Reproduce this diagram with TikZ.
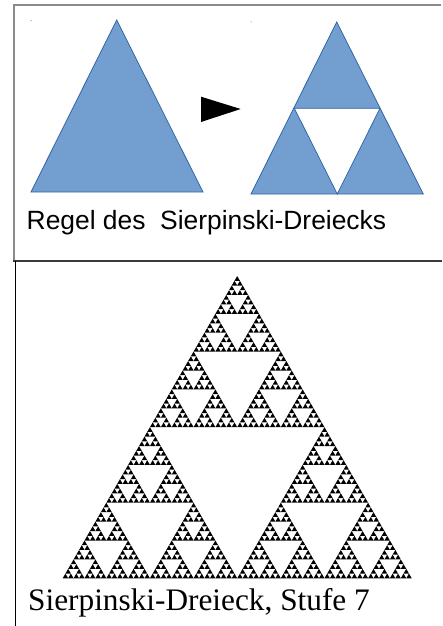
\documentclass[tikz,border=0pt]{standalone}
\usepackage{fontspec}
\newfontfamily\rulesans{Liberation Sans}
\newfontfamily\capserif{Liberation Serif}
\definecolor{trifill}{HTML}{729FCF}
\definecolor{triline}{HTML}{3465A4}
\definecolor{framegray}{HTML}{8A8A8A}
\definecolor{framedark}{HTML}{3A3A3A}
\newcommand\sptri[1]{%
  \ifnum#1=0\relax
    \fill (0,0) -- (1,0) -- (0.5,0.8660254) -- cycle;
  \else
    \begin{scope}[scale=0.5]\sptri{\the\numexpr#1-1\relax}\end{scope}%
    \begin{scope}[shift={(0.5,0)},scale=0.5]\sptri{\the\numexpr#1-1\relax}\end{scope}%
    \begin{scope}[shift={(0.25,0.4330127)},scale=0.5]\sptri{\the\numexpr#1-1\relax}\end{scope}%
  \fi}
\tikzset{
  bluetri/.style={fill=trifill, draw=triline, line width=0.8pt, line join=miter},
  sanslabel/.style={anchor=base west, inner sep=0pt, font=\rulesans\fontsize{26.4}{30}\selectfont},
  seriflabel/.style={anchor=base west, inner sep=0pt, font=\capserif\fontsize{31.3}{36}\selectfont}
}
\begin{document}
\begin{tikzpicture}[x=1pt,y=-1pt]
\useasboundingbox (0,0) rectangle (442,626);
\fill[white] (0,0) rectangle (442,626);
% frames
\draw[framegray, line width=2pt] (14,261) -- (14,5.5) -- (441,5.5);
\draw[framedark, line width=1.6pt] (13,260.7) -- (442,260.7);
\draw[black, line width=1pt] (15,261) -- (15,626);
% rule: left triangle
\draw[bluetri] (31,192) -- (203,192) -- (116.7,20) -- cycle;
\fill[triline] (31,20.7) circle (0.5);
% arrow head
\fill[black] (201,96.7) -- (240.7,109) -- (201,122) -- cycle;
% rule: right triangle
\draw[bluetri] (251,194) -- (423.3,194) -- (336.7,22) -- cycle;
\draw[fill=white, draw=triline, line width=0.8pt] (294.3,108.3) -- (380,108.3) -- (337.3,194) -- cycle;
\fill[triline] (251,22) circle (0.5);
\node[sanslabel] (rule) at (26.5,229.5) {Regel des\ \ Sierpinski-Dreiecks};
% Sierpinski triangle, level 7
\begin{scope}[shift={(62.7,578.3)}, xscale=349, yscale=-349]
  \sptri{6}
\end{scope}
\node[seriflabel] (caption) at (28,610) {Sierpinski-Dreieck, Stufe 7};
\end{tikzpicture}
\end{document}
